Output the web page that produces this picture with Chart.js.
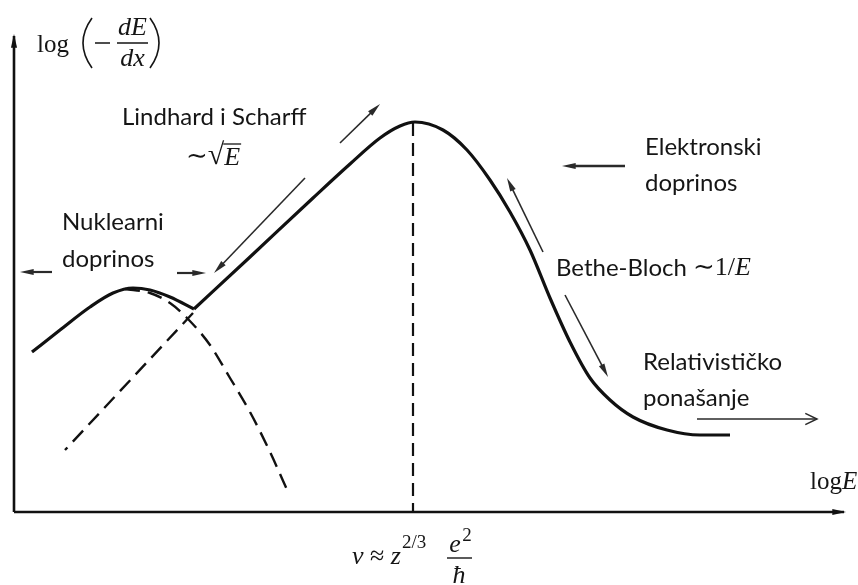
<!DOCTYPE html>
<html>
<head>
<meta charset="utf-8">
<script src="https://cdn.jsdelivr.net/npm/chart.js@4.4.1/dist/chart.umd.min.js"></script>
<style>
  body { margin: 0; background: #fff; }
  canvas { display: block; }
</style>
</head>
<body>
<canvas id="stopping" width="858" height="585"></canvas>
<script>
// curves, x = logE, y = log(-dE/dx) (arbitrary units)
var nuclearX = [1.8, 4.6, 7.6, 9.9, 11.9, 13.6, 15.6, 18.0];
var nuclearY = [16.0, 18.2, 20.5, 21.9, 22.4, 22.2, 21.5, 20.3];

var electronX = [18.0, 23.6, 29.9, 33.6, 36.6, 38.6, 40.1, 42.9, 45.3, 47.6, 49.6, 51.6, 53.6, 55.6, 57.6, 59.6, 61.9, 65.3, 68.6, 71.6];
var electronY = [20.3, 25.5, 31.4, 34.8, 37.4, 38.6, 39.0, 38.2, 36.2, 33.2, 30.0, 26.2, 21.4, 17.0, 13.4, 11.2, 9.5, 8.2, 7.7, 7.7];

var nuclearTailX = [11.1, 13.6, 15.6, 17.3, 19.6, 21.6, 23.6, 25.6, 27.4];
var nuclearTailY = [22.3, 21.9, 20.9, 19.4, 16.7, 13.4, 10.0, 6.0, 2.0];

var lindhardTailX = [17.9, 5.1];
var lindhardTailY = [19.9, 6.2];

var peakX = [39.9, 39.9];
var peakY = [38.9, 0];

var axisYX = [0, 0];
var axisYY = [0, 47.6];
var axisXX = [0, 83.0];
var axisXY = [0, 0];

function pts(xs, ys) {
    var out = [];
    for (var i = 0; i < xs.length; i++) out.push({x: xs[i], y: ys[i]});
    return out;
}

// arrows: [x0, y0, x1, y1, head, width]
var arrows = [
    [3.8, 24.0, 0.6, 24.0, 'fill', 2.2],
    [16.3, 23.9, 19.2, 23.9, 'fill', 2.2],
    [32.6, 36.9, 36.6, 40.8, 'fill', 1.6],
    [29.1, 33.4, 20.0, 23.9, 'fill', 1.6],
    [61.1, 34.6, 54.8, 34.6, 'fill', 2.6],
    [52.9, 26.0, 49.3, 33.4, 'fill', 1.6],
    [55.1, 21.7, 59.4, 13.5, 'fill', 1.6],
    [68.3, 9.3, 80.3, 9.3, 'open', 1.5]
];

// plain labels: [text, x, y]
var labels = [
    ['Lindhard i Scharff', 10.8, 39.5],
    ['Nuklearni', 4.8, 29.0],
    ['doprinos', 4.8, 25.3],
    ['Elektronski', 63.1, 36.5],
    ['doprinos', 63.1, 32.9],
    ['Bethe-Bloch', 54.2, 24.4],
    ['Relativističko', 62.9, 15.0],
    ['ponašanje', 62.9, 11.4]
];

var textFont = '24px Lato';
var serif = '"Liberation Serif", "DejaVu Serif", serif';
var ink = '#151515';

function arrowHead(ctx, x0, y0, x1, y1, kind) {
    var a = Math.atan2(y1 - y0, x1 - x0);
    var len = kind === 'open' ? 13 : 14;
    var w = kind === 'open' ? 0.45 : 0.22;
    ctx.beginPath();
    ctx.moveTo(x1 - len * Math.cos(a - w), y1 - len * Math.sin(a - w));
    ctx.lineTo(x1, y1);
    ctx.lineTo(x1 - len * Math.cos(a + w), y1 - len * Math.sin(a + w));
    if (kind === 'open') {
        ctx.stroke();
    } else {
        ctx.closePath();
        ctx.fill();
    }
}

var drawing = {
    id: 'drawing',
    afterDatasetsDraw: function(chart) {
        var ctx = chart.ctx;
        var sx = chart.scales.x, sy = chart.scales.y;
        var X = function(v) { return sx.getPixelForValue(v); };
        var Y = function(v) { return sy.getPixelForValue(v); };
        ctx.save();

        // axis arrow heads
        ctx.fillStyle = '#111';
        arrowHead(ctx, X(0), Y(30), X(axisYX[1]), Y(axisYY[1]) - 2, 'fill');
        arrowHead(ctx, X(60), Y(0), X(axisXX[1]) + 2, Y(0), 'fill');

        // thin arrows
        ctx.strokeStyle = '#2a2a2a';
        ctx.fillStyle = '#2a2a2a';
        arrows.forEach(function(a) {
            var x0 = X(a[0]), y0 = Y(a[1]), x1 = X(a[2]), y1 = Y(a[3]);
            var ang = Math.atan2(y1 - y0, x1 - x0);
            var cut = a[4] === 'fill' ? 8 : 0;
            ctx.lineWidth = a[5];
            ctx.beginPath();
            ctx.moveTo(x0, y0);
            ctx.lineTo(x1 - cut * Math.cos(ang), y1 - cut * Math.sin(ang));
            ctx.stroke();
            ctx.lineWidth = 1.5;
            arrowHead(ctx, x0, y0, x1, y1, a[4]);
        });

        // labels
        ctx.fillStyle = ink;
        ctx.strokeStyle = ink;
        ctx.textBaseline = 'middle';
        ctx.textAlign = 'left';
        ctx.font = textFont;
        labels.forEach(function(l) { ctx.fillText(l[0], X(l[1]), Y(l[2])); });

        // ~1/E after Bethe-Bloch
        var bx = X(54.2) + ctx.measureText('Bethe-Bloch ').width;
        ctx.font = '26px ' + serif;
        ctx.fillText('\u223C1/', bx, Y(24.4));
        var bw = ctx.measureText('\u223C1/').width;
        ctx.font = 'italic 26px ' + serif;
        ctx.fillText('E', bx + bw, Y(24.4));

        // ~sqrt(E)
        ctx.font = '26px ' + serif;
        var sq = X(17.2), sqy = Y(35.5);
        ctx.fillText('\u223C', sq, sqy);
        sq += ctx.measureText('\u223C').width;
        ctx.font = '30px ' + serif;
        ctx.fillText('\u221A', sq, sqy - 1);
        sq += ctx.measureText('\u221A').width;
        ctx.font = 'italic 26px ' + serif;
        ctx.fillText('E', sq, sqy + 1);
        var ew = ctx.measureText('E').width;
        ctx.lineWidth = 1.3;
        ctx.beginPath();
        ctx.moveTo(sq - 1, sqy - 13);
        ctx.lineTo(sq + ew + 1, sqy - 13);
        ctx.stroke();

        // y axis title: log(-dE/dx)
        ctx.font = '25px ' + serif;
        ctx.fillText('log', X(2.3), Y(46.7));
        ctx.lineWidth = 1.6;
        ctx.beginPath();
        ctx.moveTo(X(7.8), Y(49.4));
        ctx.quadraticCurveTo(X(6.0), Y(46.9), X(7.8), Y(44.4));
        ctx.moveTo(X(13.6), Y(49.4));
        ctx.quadraticCurveTo(X(15.4), Y(46.9), X(13.6), Y(44.4));
        ctx.moveTo(X(8.1), Y(46.9));
        ctx.lineTo(X(9.6), Y(46.9));
        ctx.moveTo(X(10.3), Y(46.9));
        ctx.lineTo(X(13.4), Y(46.9));
        ctx.stroke();
        ctx.textAlign = 'center';
        ctx.font = 'italic 26px ' + serif;
        ctx.fillText('dE', X(11.85), Y(48.4));
        ctx.fillText('dx', X(11.85), Y(45.3));

        // x axis title: logE
        ctx.textAlign = 'left';
        ctx.font = '25px ' + serif;
        ctx.fillText('log', X(79.6), Y(3.0));
        var lw = ctx.measureText('log').width;
        ctx.font = 'italic 25px ' + serif;
        ctx.fillText('E', X(79.6) + lw, Y(3.0));

        // v ~ z^(2/3) e^2 / hbar
        ctx.font = 'italic 26px ' + serif;
        var vx = X(33.8), vy = Y(-4.5);
        ctx.fillText('v', vx, vy);
        vx += ctx.measureText('v ').width;
        ctx.font = '26px ' + serif;
        ctx.fillText('\u2248', vx, vy);
        vx += ctx.measureText('\u2248 ').width;
        ctx.font = 'italic 26px ' + serif;
        ctx.fillText('z', vx, vy);
        vx += ctx.measureText('z').width + 1;
        ctx.font = '19px ' + serif;
        ctx.fillText('2/3', vx, Y(-3.1));
        ctx.textAlign = 'center';
        ctx.font = 'italic 26px ' + serif;
        ctx.fillText('e', X(44.1), Y(-3.3));
        ctx.font = '19px ' + serif;
        ctx.fillText('2', X(45.3), Y(-2.4));
        ctx.font = 'italic 26px ' + serif;
        ctx.fillText('\u0127', X(44.5), Y(-6.4));
        ctx.lineWidth = 1.4;
        ctx.beginPath();
        ctx.moveTo(X(43.3), Y(-4.6));
        ctx.lineTo(X(45.8), Y(-4.6));
        ctx.stroke();

        ctx.restore();
    }
};

var solid = { showLine: true, pointRadius: 0, borderColor: '#111', borderWidth: 3.2, cubicInterpolationMode: 'monotone', clip: false };
var dashed = { showLine: true, pointRadius: 0, borderColor: '#111', borderWidth: 2.4, borderDash: [15, 8], clip: false };

new Chart(document.getElementById('stopping'), {
    type: 'scatter',
    data: {
        datasets: [
            Object.assign({ label: 'y axis', data: pts(axisYX, axisYY) }, solid, { borderWidth: 2.6 }),
            Object.assign({ label: 'x axis', data: pts(axisXX, axisXY) }, solid, { borderWidth: 2.6 }),
            Object.assign({ label: 'Nuklearni', data: pts(nuclearX, nuclearY) }, solid),
            Object.assign({ label: 'Elektronski', data: pts(electronX, electronY) }, solid),
            Object.assign({ label: 'Nuklearni (dashed)', data: pts(nuclearTailX, nuclearTailY), cubicInterpolationMode: 'monotone' }, dashed),
            Object.assign({ label: 'Lindhard (dashed)', data: pts(lindhardTailX, lindhardTailY) }, dashed),
            Object.assign({ label: 'peak', data: pts(peakX, peakY) }, dashed, { borderWidth: 2.2, borderDash: [13, 7] })
        ]
    },
    options: {
        responsive: false,
        animation: false,
        layout: { padding: 0 },
        plugins: { legend: { display: false }, tooltip: { enabled: false } },
        scales: {
            x: { type: 'linear', display: false, min: -1.4, max: 84.4 },
            y: { type: 'linear', display: false, min: -7.3, max: 51.2 }
        }
    },
    plugins: [drawing]
});
</script>
</body>
</html>
